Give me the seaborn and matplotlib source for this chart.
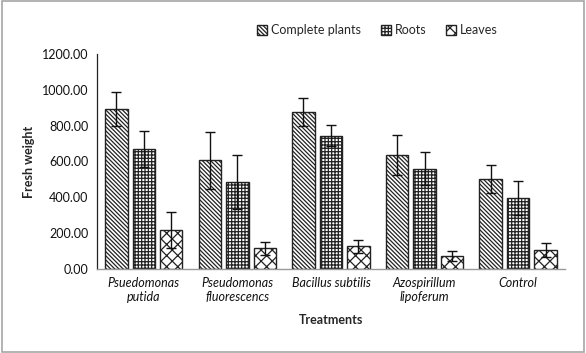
import numpy as np
import pandas as pd
import matplotlib
matplotlib.use("Agg")
import matplotlib.pyplot as plt
import seaborn as sns
from matplotlib.patches import Rectangle

treatments = ["Psuedomonas\nputida", "Pseudomonas\nfluorescencs", "Bacillus subtilis",
              "Azospirillum\nlipoferum", "Control"]
parts = ["Complete plants", "Roots", "Leaves"]
complete = [892, 607, 875, 637, 501]
roots = [670, 486, 745, 560, 395]
leaves = [216, 116, 127, 73, 104]
complete_err = [95, 158, 78, 113, 77]
roots_err = [103, 150, 58, 92, 95]
leaves_err = [100, 37, 37, 29, 39]

hatches = {"Complete plants": "\\" * 8, "Roots": "+" * 5, "Leaves": "xxx"}

sns.set_style("white")
plt.rcParams["font.family"] = ["Lato", "DejaVu Sans"]
plt.rcParams["hatch.linewidth"] = 0.9
plt.rcParams["hatch.color"] = "#222222"

df = pd.DataFrame({
    "Treatment": treatments * 3,
    "Part": [p for p in parts for _ in treatments],
    "Fresh weight": complete + roots + leaves,
    "err": complete_err + roots_err + leaves_err,
})

fig = plt.figure(figsize=(5.86, 3.53), dpi=100)
ax = fig.add_axes([0.1655, 0.238, 0.7985, 0.609])
sns.barplot(data=df, x="Treatment", y="Fresh weight", hue="Part", order=treatments,
            hue_order=parts, palette=["white"] * 3, edgecolor="#222222",
            linewidth=1.0, width=0.88, gap=0.18, errorbar=None, ax=ax)

# hatches and error bars, bar positions taken from the drawn patches
for cont, part in zip(ax.containers, parts):
    sub = df[df["Part"] == part].set_index("Treatment").loc[treatments]
    xs, ys = [], []
    for bar in cont:
        bar.set_hatch(hatches[part])
        xs.append(bar.get_x() + bar.get_width() / 2)
        ys.append(bar.get_height())
    ax.errorbar(xs, ys, yerr=sub["err"].values, fmt="none", ecolor="#111111",
                elinewidth=1.0, capsize=3.5, capthick=1.0)

ax.set_ylim(0, 1200)
ax.set_yticks(np.arange(0, 1201, 200))
ax.set_yticklabels([f"{v:.2f}" for v in np.arange(0, 1201, 200)], fontsize=9)
ax.set_xlim(-0.5, 4.5)
ax.tick_params(axis="both", length=0, pad=6, colors="#111111")
for lab in ax.get_xticklabels():
    lab.set_fontstyle("italic")
    lab.set_fontsize(9)
ax.set_xlabel("Treatments", fontsize=9, fontweight="bold", labelpad=8)
ax.set_ylabel("Fresh weight", fontsize=9, fontweight="bold", labelpad=5)

for s in ["top", "right"]:
    ax.spines[s].set_visible(False)
ax.spines["left"].set_color("#222222")
ax.spines["left"].set_linewidth(0.9)
ax.spines["bottom"].set_color("#999999")
ax.spines["bottom"].set_linewidth(1.0)

handles, labels = ax.get_legend_handles_labels()
for h, part in zip(handles, parts):
    h.set_hatch(hatches[part])
ax.legend(handles, labels, loc="center", bbox_to_anchor=(0.6, 1.11), ncol=3,
          frameon=False, fontsize=9, handlelength=0.8, handleheight=0.8,
          handletextpad=0.3, columnspacing=1.6)

fig.patches.append(Rectangle((0.003, 0.004), 0.994, 0.992, transform=fig.transFigure,
                             fill=False, edgecolor="#a6a6a6", linewidth=1.2))

fig.savefig("out.png", dpi=100)
